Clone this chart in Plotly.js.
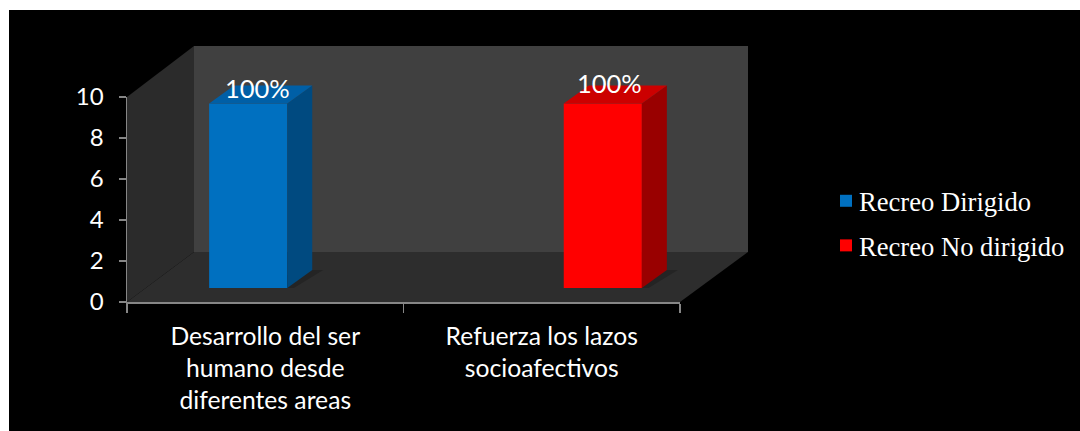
<!DOCTYPE html>
<html><head><meta charset="utf-8">
<script src="https://cdn.plot.ly/plotly-3.0.1.min.js"></script>
<style>html,body{margin:0;padding:0;background:#fff}</style></head>
<body><div id="chart" style="width:1080px;height:431px"></div>
<script>
const categories = ['Desarrollo del ser<br>humano desde<br>diferentes areas', 'Refuerza los lazos<br>socioafectivos'];
const seriesNames = ['Recreo Dirigido', 'Recreo No dirigido'];
const dirigido = [9, null];
const noDirigido = [null, 9];
const labels = ['100%', '100%'];
const yTicks = [0, 2, 4, 6, 8, 10];
const frontColors = ['#0070c0', '#ff0000'];
const topColors = ['#005fa6', '#cc0000'];
const sideColors = ['#004a80', '#990000'];

const W = 1080, H = 431;
const px = v => v / W, py = v => 1 - v / H;
const FONT = 'Lato, Carlito, sans-serif';
// Frame of the pseudo-3D box, pixels
const X0 = 127, X1 = 680, Y0 = 302, Y10 = 97;
const DX = 67, DY = 50, WALL = 206;  // depth of the box
const BX = 22, BY = 14;              // how deep the bars stand
const unitX = (X1 - X0) / 2, unitY = (Y0 - Y10) / 10;
const GAP = 0.435, SLOT = (1 - GAP) / 2;
const DEPTHX = 25 / unitX, DEPTHY = 18 / unitY;

const poly = (pts, fill) => ({type:'path', xref:'paper', yref:'paper', layer:'below', line:{width:0}, fillcolor:fill,
  path:'M' + pts.map(p => px(p[0]) + ',' + py(p[1])).join('L') + 'Z'});
const shapes = [
  {type:'rect', xref:'paper', yref:'paper', layer:'below', x0:px(9), x1:1, y0:0, y1:py(10), line:{width:0}, fillcolor:'#000'},
  poly([[X0+DX,Y0-DY-WALL],[X0+DX+554,Y0-DY-WALL],[X0+DX+554,Y0-DY],[X0+DX,Y0-DY]], '#404040'),
  poly([[X0,Y10],[X0+DX,Y0-DY-WALL],[X0+DX,Y0-DY],[X0,Y0]], '#2b2b2b'),
  poly([[X0,Y0],[X0+DX,Y0-DY],[X0+DX+554,Y0-DY],[X1,Y0]], '#2d2d2d')
];

const barTraces = [dirigido, noDirigido].map((vals, s) => ({
  type:'bar', name:seriesNames[s], legendgroup:seriesNames[s], x:[0,1], y:vals, xaxis:'x2', yaxis:'y2',
  marker:{color:frontColors[s], line:{width:0}}, hoverinfo:'skip'
}));
const faceTraces = [], annotations = [];
[dirigido, noDirigido].forEach((vals, s) => vals.forEach((v, c) => {
  if (v === null) return;
  const l = c + (s === 0 ? -SLOT : 0), r = l + SLOT;
  const face = (xs, ys, col) => faceTraces.push({type:'scatter', mode:'lines', x:xs, y:ys, xaxis:'x2', yaxis:'y2', fill:'toself',
    fillcolor:col, line:{width:0}, showlegend:false, hoverinfo:'skip'});
  face([r, r+DEPTHX, r+DEPTHX, r], [0, DEPTHY, v+DEPTHY, v], sideColors[s]);
  face([l, l+DEPTHX, r+DEPTHX, r], [v, v+DEPTHY, v+DEPTHY, v], topColors[s]);
  shapes.push({type:'path', xref:'x2', yref:'y2', layer:'below', line:{width:0}, fillcolor:'rgba(0,0,0,0.2)',
    path:`M${l-0.035},-0.2L${r},-0.2L${r+DEPTHX+0.04},${DEPTHY}L${r+DEPTHX},${DEPTHY}Z`});
  annotations.push({xref:'x2', yref:'y2', x:(l+r)/2+(s===0?0.033:0.026), y:v+(s===0?0.75:1.0), text:labels[c], showarrow:false,
    font:{family:FONT, size:25.5, color:'#fff'}});
}));

const data = [{type:'bar', x:categories, y:[0,0], marker:{color:'rgba(0,0,0,0)'}, showlegend:false, hoverinfo:'skip', xaxis:'x', yaxis:'y'},
  ...barTraces, ...faceTraces];
const layout = {
  width:W, height:H, margin:{l:0,r:0,t:0,b:0}, paper_bgcolor:'#fff', plot_bgcolor:'rgba(0,0,0,0)', showlegend:true,
  barmode:'group', bargap:GAP, bargroupgap:0, shapes, annotations,
  xaxis:{type:'category', domain:[px(X0),px(X1)], anchor:'y', range:[-0.5,1.5], categoryorder:'array', categoryarray:categories,
    tickson:'boundaries', ticks:'outside', ticklen:9, tickcolor:'#868686', tickwidth:1.5, showline:true, linecolor:'#868686', linewidth:1.5,
    showgrid:false, zeroline:false, tickangle:0, ticklabelstandoff:12, tickfont:{family:FONT, size:24.7, color:'#fff'}},
  yaxis:{domain:[py(Y0),py(Y10)], anchor:'x', range:[0,10], tickmode:'array', tickvals:yTicks, ticks:'outside', ticklen:7, tickcolor:'#868686', tickwidth:1.5,
    showline:true, linecolor:'#868686', linewidth:1.5, showgrid:false, zeroline:false, ticklabelstandoff:10, tickfont:{family:FONT, size:24, color:'#fff'}},
  xaxis2:{type:'linear', domain:[px(X0+BX),px(X1+BX)], anchor:'y2', range:[-0.5,1.5], visible:false, fixedrange:true},
  yaxis2:{domain:[py(Y0-BY),py(Y10-BY)], anchor:'x2', range:[0,10], visible:false, fixedrange:true},
  legend:{x:px(819), y:py(177), xanchor:'left', yanchor:'top', bgcolor:'rgba(0,0,0,0)', traceorder:'grouped',
    font:{family:'"Liberation Serif", serif', size:26.6, color:'#fff'}, itemwidth:30, tracegroupgap:7}
};
Plotly.newPlot('chart', data, layout, {displayModeBar:false, staticPlot:true}).then(() => {
  // Bring the legend keys nearer their text, as in the reference
  document.querySelectorAll('.legend .legendpoints').forEach(g => g.setAttribute('transform', 'translate(7,0)'));
});
</script></body></html>
